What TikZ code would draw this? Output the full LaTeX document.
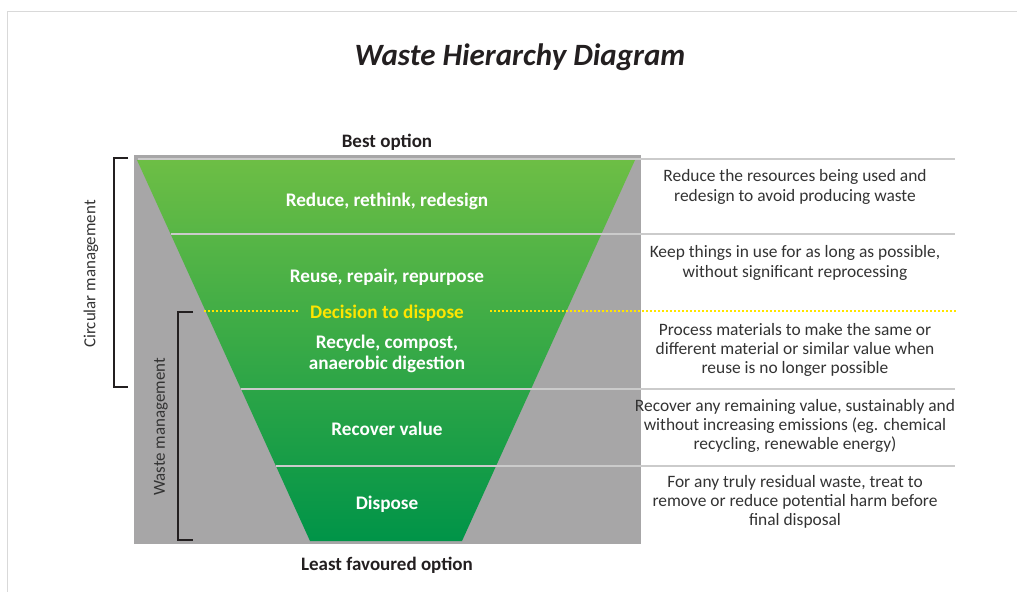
\documentclass[tikz,border=0pt]{standalone}
\usepackage{fontspec}
\setmainfont{Carlito}
\usetikzlibrary{positioning}

\definecolor{funneltop}{HTML}{6DBE45}
\definecolor{funnelbot}{HTML}{009448}
\definecolor{sidegray}{HTML}{A7A6A7}
\definecolor{rulegray}{HTML}{CBCBCB}
\definecolor{disposeyellow}{HTML}{FFE500}
\definecolor{bodytext}{HTML}{333333}
\definecolor{inkdark}{HTML}{231F20}

\tikzset{
  level/.style={text=white,font=\bfseries\fontsize{19.2}{21}\selectfont,align=center},
  note/.style={text=bodytext,font=\fontsize{17.4}{19.3}\selectfont,align=center},
  divider/.style={rulegray,line width=2.5pt},
  dotline/.style={disposeyellow,line width=1.6pt,dash pattern=on 1.6pt off 2.4pt},
  brace/.style={inkdark,line width=1.3pt},
  sidelabel/.style={text=black!80,font=\fontsize{16.9}{19}\selectfont,rotate=90},
  endlabel/.style={text=inkdark,font=\bfseries\fontsize{19}{21}\selectfont},
}

\begin{document}
\begin{tikzpicture}[x=1pt,y=-1pt]
  \useasboundingbox (0,0) rectangle (1017,592);
  % page edge
  \draw[black!15,line width=1pt] (1017,11) -- (7,11) -- (7,592);

  \node[text=inkdark,font=\bfseries\itshape\fontsize{31}{34}\selectfont] (title) at (520,57) {Waste Hierarchy Diagram};

  % funnel on its grey panel
  \fill[sidegray] (134,155) rectangle (641,544);
  \shade[top color=funneltop,bottom color=funnelbot] (137,160) -- (635,160) -- (462,541) -- (310,541) -- cycle;
  \foreach \y/\x in {159/138, 234/171, 389/241, 466/276}
    \draw[divider] (\x,\y) -- (955,\y);

  \node[endlabel] (best) at (387,142) {Best option};
  \node[endlabel] (least) at (387,565) {Least favoured option};

  \node[level] (reduce) at (387,201) {Reduce, rethink, redesign};
  \node[level] (reuse) at (387,277) {Reuse, repair, repurpose};
  \node[level,text=disposeyellow,inner xsep=10pt] (decide) at (387,313) {Decision to dispose};
  \node[level] (recycle) at (387,354) {Recycle, compost,\\anaerobic digestion};
  \node[level] (recover) at (387,429) {Recover value};
  \node[level] (dispose) at (387,504) {Dispose};

  \coordinate (dotstart) at (204,311);
  \coordinate (dotend) at (957,311);
  \draw[dotline] (dotstart) -- (dotstart -| decide.west);
  \draw[dotline] ([xshift=16pt]dotstart -| decide.east) -- (dotend);

  % what each level means
  \node[note] (noteA) at (795,187) {Reduce the resources being used and\\redesign to avoid producing waste};
  \node[note] (noteB) at (795,263) {Keep things in use for as long as possible,\\without significant reprocessing};
  \node[note] (noteC) at (795,350) {Process materials to make the same or\\different material or similar value when\\reuse is no longer possible};
  \node[note] (noteD) at (795,426) {Recover any remaining value, sustainably and\\without increasing emissions (eg. chemical\\recycling, renewable energy)};
  \node[note] (noteE) at (795,502) {For any truly residual waste, treat to\\remove or reduce potential harm before\\final disposal};

  % brackets on the left
  \draw[brace] (128,158) -- (114,158) -- (114,387) -- (128,387);
  \draw[brace] (193,312) -- (178,312) -- (178,540) -- (193,540);
  \node[sidelabel] (circular) at (91,274) {Circular management};
  \node[sidelabel] (wastemgmt) at (161,427) {Waste management};
\end{tikzpicture}
\end{document}
